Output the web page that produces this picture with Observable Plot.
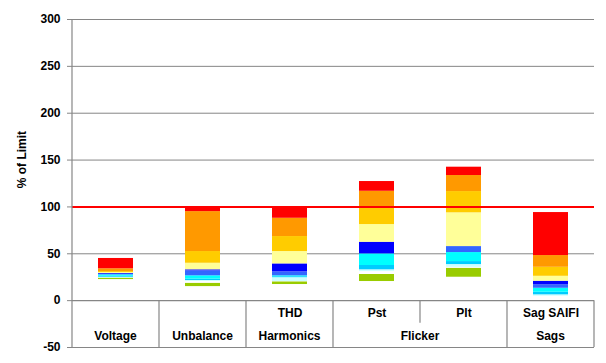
<!DOCTYPE html>
<html><head><meta charset="utf-8">
<script src="https://cdn.jsdelivr.net/npm/d3@7"></script>
<script src="https://cdn.jsdelivr.net/npm/@observablehq/plot@0.6"></script>
<style>
body{margin:0;background:#fff;}
svg{font-family:"Liberation Sans",Arial,sans-serif;}
</style>
</head><body><div id="chart"></div>
<script>
// categories
const bars = ["Voltage", "Unbalance", "THD", "Pst", "Plt", "Sag SAIFI"];
const subLabels = ["", "", "THD", "Pst", "Plt", "Sag SAIFI"];
const groupNames = ["Voltage", "Unbalance", "Harmonics", "Flicker", "Sags"];
const groupSpans = [1, 1, 1, 2, 1];
const yTicks = [-50, 0, 50, 100, 150, 200, 250, 300];
const gridValues = [50, 150, 200, 250, 300];
const limit = 100;

// series: upper bound of each band (bottom to top), per bar
const base        = [22.5, 15.0, 17.2, 20.4, 25.0, 4.7];
const green       = [24.0, 18.6, 20.1, 27.9, 34.6, 4.7];
const white       = [24.0, 20.5, 20.4, 31.0, 35.6, 4.7];
const lightCyan   = [25.0, 21.5, 24.5, 32.9, 38.5, 6.2];
const deepCyan    = [26.0, 23.0, 25.5, 37.5, 41.7, 9.0];
const cyan        = [27.5, 26.5, 26.5, 49.9, 51.3, 13.2];
const midBlue     = [28.2, 31.8, 30.7, 49.9, 57.7, 16.9];
const blue        = [29.0, 32.9, 39.2, 62.3, 57.7, 20.7];
const lightYellow = [30.0, 39.9, 52.4, 81.2, 93.7, 26.0];
const gold        = [31.0, 52.4, 68.4, 99.7, 116.4, 35.6];
const orange      = [34.0, 95.0, 87.9, 116.7, 133.5, 48.1];
const red         = [45.0, 100.0, 100.0, 127.1, 142.4, 94.0];

const levels = [
  {values: green, color: "#99CC00"},
  {values: white, color: "#FFFFFF"},
  {values: lightCyan, color: "#CCFFFF"},
  {values: deepCyan, color: "#00CCFF"},
  {values: cyan, color: "#00FFFF"},
  {values: midBlue, color: "#3366FF"},
  {values: blue, color: "#0000FF"},
  {values: lightYellow, color: "#FFFF99"},
  {values: gold, color: "#FFCC00"},
  {values: orange, color: "#FF9900"},
  {values: red, color: "#FF0000"}
];

const rows = [];
bars.forEach((b, i) => {
  let lo = base[i];
  levels.forEach(l => {
    const hi = l.values[i];
    if (hi > lo) rows.push({bar: b, y1: lo, y2: hi, color: l.color});
    lo = Math.max(lo, hi);
  });
});

const gray = "#868686";
const chart = Plot.plot({
  width: 606, height: 363,
  marginLeft: 72, marginRight: 12, marginTop: 19, marginBottom: 16,
  style: {fontFamily: "'Liberation Sans', Arial, sans-serif", fontSize: "12px", color: "#000", background: "#fff"},
  x: {domain: bars, paddingInner: 0.6, paddingOuter: 0.3, axis: null},
  y: {domain: [-50, 300], axis: null},
  marks: [
    Plot.ruleY(gridValues, {stroke: gray, strokeWidth: 1}),
    Plot.ruleY([0, -50], {stroke: gray, strokeWidth: 1.2}),
    Plot.rectY(rows, {x: "bar", y1: "y1", y2: "y2", fill: "color"}),
    Plot.ruleY([limit], {stroke: "#FF0000", strokeWidth: 2}),
    Plot.axisY({ticks: yTicks, tickFormat: d => String(d), tickSize: 5, tickPadding: 7,
      stroke: gray, fill: "#000", fontWeight: "bold", fontSize: 12, label: null}),
    Plot.text(bars, {x: d => d, y: -13, text: (d, i) => subLabels[i], fontWeight: "bold", fontSize: 12, fill: "#000"})
  ]
});
document.getElementById("chart").appendChild(chart);

// table lines, group labels and axis title, positioned through Plot's scales
const xs = chart.scale("x");
const ys = chart.scale("y");
const half = (xs.step - xs.bandwidth) / 2;
const left = i => xs.apply(bars[i]) - half;
const right = i => xs.apply(bars[i]) + xs.bandwidth + half;
const svg = d3.select(chart);
const g = svg.append("g");
// axis line
g.append("line").attr("x1", left(0)).attr("x2", left(0)).attr("y1", ys.apply(300)).attr("y2", ys.apply(-50))
  .attr("stroke", gray).attr("stroke-width", 1.2);
// full separators between groups
let idx = 0;
groupNames.forEach((name, k) => {
  const a = idx, b = idx + groupSpans[k] - 1;
  const x0 = left(a), x1 = right(b);
  g.append("line").attr("x1", x1).attr("x2", x1).attr("y1", ys.apply(0)).attr("y2", ys.apply(-50))
    .attr("stroke", gray).attr("stroke-width", 1.2);
  for (let j = a; j < b; j++) {
    const xm = right(j);
    g.append("line").attr("x1", xm).attr("x2", xm).attr("y1", ys.apply(0)).attr("y2", ys.apply(-24))
      .attr("stroke", gray).attr("stroke-width", 1.2);
  }
  g.append("text").attr("x", (x0 + x1) / 2).attr("y", ys.apply(-39.5)).attr("text-anchor", "middle")
    .attr("dominant-baseline", "middle").attr("font-weight", "bold").attr("font-size", 12).attr("fill", "#000")
    .text(name);
  idx = b + 1;
});
// y axis title
g.append("text").attr("transform", `translate(23,${ys.apply(150)}) rotate(-90)`).attr("text-anchor", "middle")
  .attr("dominant-baseline", "middle").attr("font-weight", "bold").attr("font-size", 12).attr("fill", "#000")
  .text("% of Limit");
</script>
</body></html>
